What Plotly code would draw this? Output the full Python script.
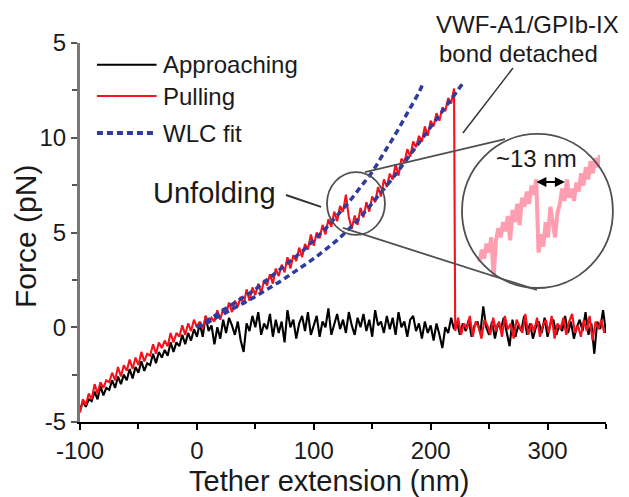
import plotly.graph_objects as go

# ---------------- data ----------------
X_START = -100
X_STEP = 2.5

# Approaching trace (black), sampled every 2.5 nm from -100 nm
approach_force = [
    -4.4, -3.9, -4.2, -3.8, -3.9, -3.4, -3.8, -3.1, -3.6, -3.2,
    -3.3, -2.8, -3.2, -2.6, -3.0, -2.5, -2.8, -2.2, -2.7, -2.1,
    -2.4, -1.8, -2.3, -1.9, -2.0, -1.4, -1.9, -1.3, -1.6, -1.2,
    -1.5, -0.8, -1.3, -0.8, -1.0, -0.4, -0.9, -0.3, -0.7, -0.1,
    -0.5,
    0.2, -0.5, 0.6, -0.2, 0.1, -0.9, 0.0, -0.6, 0.4, -0.3,
    0.5, 0.1, -0.4, 0.3, -0.7, -1.3, 0.2, -0.2, 0.6, 0.0,
    0.8, -0.4, 0.2, -0.1, 0.7, -0.5, 0.4, -0.3, 0.3, -0.8,
    0.9, 0.0, 0.4, -0.6, 0.2, 0.6, -0.2, 0.8, -0.4, 0.1,
    0.6, -0.5, 0.3, 0.0, 1.0, -0.4, 0.2, 0.7, -0.1, 0.4,
    -0.3, 0.8, 0.1, -0.4, 0.5, 0.0, 0.7, -0.2, 0.4, -0.5,
    0.9, 0.1, 0.3, -0.3, 0.6, -0.1, 0.5, -0.4, 0.8, 0.0,
    0.3, -0.5, 0.4, 0.6, -0.2, 0.2, -0.6, 0.3, -0.3, 0.1,
    -0.7, 0.2, -0.4, -1.1, 0.0, -0.3, 0.5, -0.1, 0.3, -0.4,
    0.2, -0.2, 0.4, -0.5, 0.1, 0.3, -0.3, 1.1, 0.0, -0.4,
    0.3, -0.6, 0.2, -0.1, 0.5, -0.3, -1.0, 0.4, -0.5, 0.1,
    -0.2, 0.6, -0.4, 0.2, -0.6, 0.0, 0.3, -0.3, 0.5, -0.5,
    0.2, 0.4, -0.4, 0.1, -0.2, 0.6, -0.3, 0.3, -0.6, 0.0,
    0.4, -0.2, 0.8, -0.4, 0.2, -1.4, 0.3, -0.1, 0.9, -0.3,
]

# Pulling trace (red) up to rupture, every 2.5 nm from -100 nm
pull_force = [
    -4.5, -3.8, -4.1, -3.5, -3.8, -3.0, -3.5, -2.9, -3.2, -2.8,
    -2.9, -2.4, -2.8, -2.1, -2.6, -2.0, -2.3, -1.7, -2.2, -1.6,
    -2.0, -1.3, -1.8, -1.4, -1.5, -0.9, -1.4, -0.8, -1.1, -0.7,
    -1.0, -0.3, -0.8, -0.3, -0.5, 0.1, -0.4, 0.2, -0.2, 0.4,
    0.0,
    0.3, -0.1, 0.6, 0.2, 0.5, 0.3, 0.9, 0.4, 1.0, 0.7,
    1.3, 0.8, 1.4, 1.1, 1.6, 1.2, 2.0, 1.4, 2.1, 1.7,
    2.3, 1.8, 2.5, 2.2, 2.8, 2.3, 3.1, 2.7, 3.3, 2.9,
    3.7, 3.1, 3.8, 3.5, 4.2, 3.7, 4.4, 4.1, 4.9, 4.3,
    5.0, 4.7, 5.4, 4.9, 5.7, 5.3, 6.1, 5.6, 6.4, 6.1,
    7.0, 5.8, 5.2, 5.9, 5.4, 6.3, 5.8, 6.6, 6.1, 6.9,
    6.6, 7.4, 6.9, 7.8, 7.4, 8.1, 7.8, 8.6, 8.0, 8.9,
    8.7, 9.4, 9.0, 9.8, 9.5, 10.1, 9.8, 10.6, 10.1, 10.9,
    10.6, 11.3, 10.9, 11.6, 11.4, 12.1, 11.8, 12.6,
]

# Pulling trace after the bond detached, every 2.5 nm from 221 nm
TAIL_START = 221
pull_tail_force = [
    -0.2, 0.5, -0.4, 0.2, -0.1, 0.6, -0.5, 0.3, 0.0, -0.6,
    0.4, 0.1, -0.4, 0.5, -0.2, 0.3, -0.5, 0.6, -0.1, 0.2,
    -0.6, 0.4, 0.0, -0.3, 0.7, -0.4, 0.2, -0.2, 0.5, -0.5,
    0.1, 0.4, -0.3, 0.6, -0.6, 0.2, -0.1, 0.5, -0.4, 0.3,
    0.7, -0.3, 0.1, -0.5, 0.4, -0.2, 0.6, -0.7, 0.3, -0.1,
    0.4, -0.3,
]

# WLC fits (blue dashed)
wlc1_x = [0, 10, 20, 30, 40, 50, 60, 70, 80, 90, 100, 110, 120, 130,
          140, 150, 160, 170, 180, 190, 193]
wlc1_f = [0, 0.4, 0.8, 1.2, 1.6, 2.0, 2.5, 3.0, 3.5, 4.0, 4.6, 5.2, 5.9,
          6.6, 7.4, 8.2, 9.2, 10.2, 11.3, 12.4, 12.8]
wlc2_x = [0, 12, 24, 36, 48, 60, 72, 84, 96, 108, 120, 132, 144, 156,
          168, 180, 192, 204, 216, 229]
wlc2_f = [0, 0.35, 0.75, 1.15, 1.55, 2.0, 2.45, 2.95, 3.45, 4.0, 4.6,
          5.3, 6.1, 7.0, 7.9, 8.9, 9.9, 10.9, 11.9, 13.0]

# Magnified unfolding steps shown in the inset (1 nm sampling from 109 nm)
INSET_START = 109
inset_force = [
    5.0, 5.4, 5.1, 5.6, 5.3, 5.8, 4.5, 5.7, 6.1, 5.8,
    6.3, 6.0, 6.5, 5.7, 6.7, 6.3, 6.9, 6.2, 7.1, 6.8,
    7.3, 6.9, 7.5, 7.2, 7.7, 5.3, 5.9, 5.5, 6.3, 5.8,
    6.8, 6.3, 5.8, 6.6, 6.9, 7.4, 7.0, 7.7, 7.1, 7.4,
    7.0, 7.6, 7.3, 7.9, 7.5, 8.1, 7.7, 8.3, 7.9, 8.4,
    8.1, 8.5,
]

x_ticks = [-100, 0, 100, 200, 300]
x_tick_text = ["-100", "0", "100", "200", "300"]
y_ticks = [-5, 0, 5, 10, 15]
y_tick_text = ["-5", "0", "5", "10", "5"]

legend_labels = ["Approaching", "Pulling", "WLC fit"]

# ---------------- styling ----------------
X_RANGE = [-100, 350]
Y_RANGE = [-5, 15]
FONT = "Liberation Sans, Arial, Helvetica, sans-serif"
TXT = "#1a1a1a"
RED = "#f5121c"
BLUE = "#2f3c9e"
GRAY = "#505050"
DASH = "6px,4px"


def px(nm):
    return (nm - X_RANGE[0]) / (X_RANGE[1] - X_RANGE[0])


def py(pn):
    return (pn - Y_RANGE[0]) / (Y_RANGE[1] - Y_RANGE[0])


approach_x = [X_START + X_STEP * i for i in range(len(approach_force))]
pull_x = [X_START + X_STEP * i for i in range(len(pull_force))]
pull_x += [TAIL_START + X_STEP * i for i in range(len(pull_tail_force))]
pull_y = pull_force + pull_tail_force
inset_x = [INSET_START + i for i in range(len(inset_force))]

fig = go.Figure()
fig.add_trace(go.Scatter(x=approach_x, y=approach_force, mode="lines",
                         line=dict(color="black", width=2.1), name="Approaching"))
fig.add_trace(go.Scatter(x=pull_x, y=pull_y, mode="lines",
                         line=dict(color=RED, width=2.1), name="Pulling"))
fig.add_trace(go.Scatter(x=wlc1_x, y=wlc1_f, mode="lines", line_shape="spline",
                         line=dict(color=BLUE, width=3.5, dash=DASH), name="WLC fit"))
fig.add_trace(go.Scatter(x=wlc2_x, y=wlc2_f, mode="lines", line_shape="spline",
                         line=dict(color=BLUE, width=3.5, dash=DASH), name="WLC fit 2"))
fig.add_trace(go.Scatter(x=inset_x, y=inset_force, mode="lines",
                         xaxis="x2", yaxis="y2",
                         line=dict(color="rgba(255,60,100,0.5)", width=4),
                         name="inset"))

shapes = []
annotations = []

# legend drawn by hand
leg_y = [13.85, 12.2, 10.25]
leg_styles = [dict(color="black", width=2),
              dict(color=RED, width=2),
              dict(color=BLUE, width=4, dash=DASH)]
for lbl, yy, st in zip(legend_labels, leg_y, leg_styles):
    shapes.append(dict(type="line", xref="paper", yref="paper",
                       x0=px(-85.5), x1=px(-34.5), y0=py(yy), y1=py(yy), line=st))
    annotations.append(dict(text=lbl, xref="paper", yref="paper", x=px(-30.5), y=py(yy),
                            xanchor="left", yanchor="middle", showarrow=False,
                            font=dict(size=24, color=TXT)))

# circles and connectors
circ = dict(color=GRAY, width=1.8)
shapes += [
    dict(type="circle", xref="paper", yref="paper",
         x0=px(111.3), x1=px(160.9), y0=py(4.87), y1=py(8.19), line=circ),
    dict(type="circle", xref="paper", yref="paper",
         x0=px(226.8), x1=px(355.9), y0=py(2.07), y1=py(10.2), line=circ),
    dict(type="line", xref="paper", yref="paper",
         x0=px(143.8), y0=py(8.19), x1=px(263.6), y1=py(9.93), line=circ),
    dict(type="line", xref="paper", yref="paper",
         x0=px(125.0), y0=py(5.24), x1=px(290.8), y1=py(1.97), line=circ),
    dict(type="line", xref="paper", yref="paper",
         x0=px(76.2), y0=py(6.98), x1=px(106.2), y1=py(6.35), line=dict(color="#333", width=2)),
    dict(type="line", xref="paper", yref="paper",
         x0=px(270.4), y0=py(13.68), x1=px(227.6), y1=py(10.25), line=dict(color="#333", width=1.5)),
]

annotations += [
    dict(text="Unfolding", xref="paper", yref="paper", x=px(69.4), y=py(7.08),
         xanchor="right", yanchor="middle", showarrow=False, font=dict(size=29, color=TXT)),
    dict(text="VWF-A1/GPIb-IX", xref="paper", yref="paper", x=px(203.0), y=py(16.0),
         xanchor="left", yanchor="middle", showarrow=False, font=dict(size=24, color=TXT)),
    dict(text="bond detached", xref="paper", yref="paper", x=px(205.5), y=py(14.45),
         xanchor="left", yanchor="middle", showarrow=False, font=dict(size=24, color=TXT)),
    dict(text="~13 nm", xref="paper", yref="paper", x=px(254.0), y=py(8.88),
         xanchor="left", yanchor="middle", showarrow=False, font=dict(size=24, color=TXT)),
    dict(text="", xref="paper", yref="paper", x=px(314.8), y=py(7.67),
         axref="pixel", ayref="pixel", ax=-30, ay=0, showarrow=True,
         arrowside="end+start", arrowhead=2, arrowsize=1, arrowwidth=2, arrowcolor="black"),
    # axis titles
    dict(text="Tether extension (nm)", xref="paper", yref="paper", x=0.4743, y=-0.1557,
         xanchor="center", yanchor="middle", showarrow=False, font=dict(size=29, color=TXT)),
    dict(text="Force (pN)", xref="paper", yref="paper", x=-0.1027, y=0.4908,
         xanchor="center", yanchor="middle", textangle=-90, showarrow=False,
         font=dict(size=30, color=TXT)),
]

fig.update_layout(
    width=629, height=497,
    margin=dict(l=80, r=23, t=43, b=75),
    plot_bgcolor="white", paper_bgcolor="white",
    showlegend=False,
    font=dict(family=FONT, size=24, color=TXT),
    shapes=shapes, annotations=annotations,
    xaxis=dict(range=X_RANGE, tickvals=x_ticks, ticktext=x_tick_text,
               showgrid=False, zeroline=False,
               showline=True, linecolor="black", linewidth=2,
               ticks="outside", ticklen=6, tickwidth=2, tickcolor="black",
               minor=dict(tickvals=[-50, 50, 150, 250, 350], ticks="outside",
                          ticklen=5, tickwidth=2, tickcolor="black"),
               tickfont=dict(size=24, color=TXT)),
    yaxis=dict(range=Y_RANGE, tickvals=y_ticks, ticktext=y_tick_text,
               showgrid=False, zeroline=False,
               showline=True, linecolor="#777777", linewidth=3,
               ticks="outside", ticklen=6, tickwidth=2, tickcolor="#555555",
               minor=dict(tickvals=[-2.5, 2.5, 7.5, 12.5], ticks="outside",
                          ticklen=5, tickwidth=2, tickcolor="#555555"),
               tickfont=dict(size=24, color=TXT)),
    xaxis2=dict(domain=[(470 - 80) / 526, (600 - 80) / 526], anchor="y2",
                range=[105, 160], visible=False),
    yaxis2=dict(domain=[(422 - 277) / 379, (422 - 155) / 379], anchor="x2",
                range=[4.5, 8.5], visible=False),
)

fig.write_html("out.html")
